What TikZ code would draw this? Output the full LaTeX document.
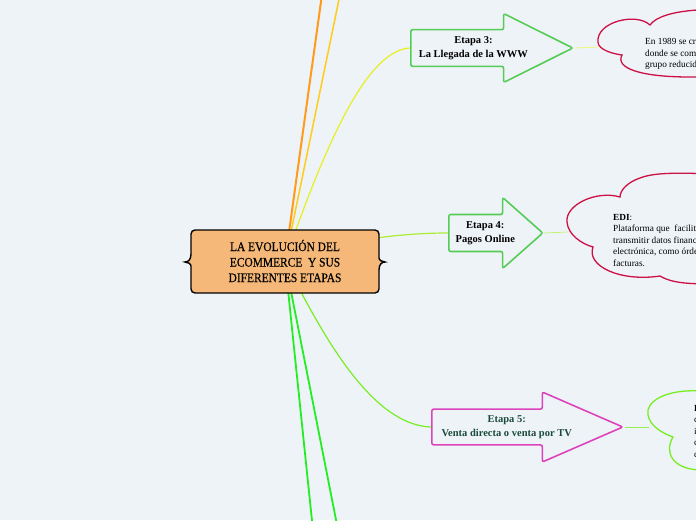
\documentclass[tikz,border=0pt]{standalone}
\usepackage{fontspec}
\setmainfont{Liberation Serif}
\newfontfamily\topicfont[FakeStretch=0.88,FakeBold=0.4]{Liberation Serif}
\usetikzlibrary{shapes.arrows,calc}
\definecolor{mybg}{HTML}{EEF3F8}
\definecolor{myorange}{HTML}{FF9A1A}
\definecolor{mygold}{HTML}{FFCC1A}
\definecolor{myyellow}{HTML}{E6F020}
\definecolor{mylime}{HTML}{AAEE33}
\definecolor{mylgreen}{HTML}{77EE22}
\definecolor{mygreen}{HTML}{22EE22}
\definecolor{mystage}{HTML}{55CC55}
\definecolor{mymagenta}{HTML}{DD44BB}
\definecolor{mycrimson}{HTML}{CC1144}
\definecolor{mypeach}{HTML}{F5B878}
\definecolor{mydkgreen}{HTML}{1A4A3A}

\begin{document}
\begin{tikzpicture}[x=1pt, y=-1pt,
  every node/.style={font=\fontsize{10.5}{13.5}\selectfont\bfseries, align=center},
  stage/.style={shape=single arrow, draw=mystage, fill=mybg, line width=1.6pt,
    rounded corners=2pt, inner sep=2pt, anchor=tail},
  bubble/.style={draw=mycrimson, fill=mybg, line width=1.3pt},
  note/.style={font=\fontsize{9.3}{11.5}\selectfont, align=left, anchor=north west, inner sep=0pt}]
  % --- canvas ---
  \fill[mybg] (0,0) rectangle (696,520);
  \clip (0,0) rectangle (696,520);
  % --- hub and loose ends ---
  \coordinate (hub) at (285,261);
  \coordinate (o1) at (324,-20);
  \coordinate (o2) at (343,-20);
  \coordinate (g1) at (314,540);
  \coordinate (g2) at (340,540);
  % --- stage 3 ---
  \node[stage, minimum height=162pt, minimum width=69pt,
    single arrow head extend=12.5pt, single arrow tip angle=53] (e3) at (410,48)
    {Etapa 3:\\La Llegada de la WWW};
  \draw[bubble] (650,25) .. controls (636,12) and (596,22) .. (598,42)
    .. controls (598,50) and (614,54) .. (622,55)
    .. controls (615,68) and (640,77) .. (690,77) -- (770,77) -- (770,14)
    .. controls (720,6) and (662,8) .. cycle;
  \coordinate (k3) at (599,47);
  \node[note] (t3) at (645,38)
    {En 1989 se creó la World Wide Web,\\donde se comenzó a vender a un\\grupo reducido de usuarios.};
  % --- stage 4 ---
  \node[stage, minimum height=94pt, minimum width=71pt,
    single arrow head extend=13pt, single arrow tip angle=83] (e4) at (448,233)
    {Etapa 4:\\Pagos Online};
  \draw[bubble] (620,197) .. controls (596,190) and (565,205) .. (567,222)
    .. controls (568,235) and (582,244) .. (593,247)
    .. controls (586,266) and (620,282) .. (660,276)
    .. controls (675,285) and (700,286) .. (770,280) -- (770,176)
    .. controls (700,174) and (660,170) .. (640,178)
    .. controls (628,182) and (620,190) .. cycle;
  \coordinate (k4) at (568,232);
  \node[note] (t4) at (613,214)
    {\textbf{EDI}:\\Plataforma que~ facilitaba\\transmitir datos financieros de forma\\electrónica, como órdenes de compra y\\facturas.};
  % --- stage 5 ---
  \node[stage, draw=mymagenta, text=mydkgreen, minimum height=191pt, minimum width=70pt,
    single arrow head extend=13.5pt, single arrow tip angle=47] (e5) at (431,427)
    {Etapa 5:\\Venta directa o venta por TV};
  \draw[bubble, draw=mylgreen] (700,391) .. controls (665,389) and (645,402) .. (648,415)
    .. controls (650,426) and (662,433) .. (673,437)
    .. controls (664,452) and (672,469) .. (700,470) -- (770,470) -- (770,391) -- cycle;
  \coordinate (k5) at (649,427);
  \node[note] (t5) at (694,405)
    {\textbf{En}\\comerciales\\infomerciales\\canales\\compras};
  % --- connectors ---
  \draw[myorange, line width=2pt] (hub) -- (o1);
  \draw[mygold, line width=1.5pt] (hub) -- (o2);
  \draw[mygreen, line width=1.8pt] (hub) -- (g1);
  \draw[mygreen, line width=1.8pt] (hub) -- (g2);
  \draw[myyellow, line width=1.2pt] (hub) .. controls (330,130) and (370,50) .. (e3.tail);
  \draw[mylime, line width=1.2pt] (hub) .. controls (340,240) and (400,233) .. (e4.tail);
  \draw[mylgreen, line width=1.2pt] (hub) .. controls (320,330) and (370,425) .. (e5.tail);
  \draw[myyellow!60, line width=0.8pt] (e3.tip) -- (k3);
  \draw[mylime!70, line width=0.8pt] (e4.tip) -- (k4);
  \draw[mylgreen!80, line width=0.8pt] (e5.tip) -- (k5);
  % --- central topic ---
  \draw[fill=mypeach, line width=1.4pt, rounded corners=4pt]
    (191,230) -- (379,230) -- (379,254)
    [sharp corners] .. controls (379,260) and (382,262) .. (385,262)
    .. controls (382,262) and (379,264) .. (379,270)
    [rounded corners=4pt] -- (379,293) -- (191,293) -- (191,270)
    [sharp corners] .. controls (191,264) and (188,262) .. (185,262)
    .. controls (188,262) and (191,260) .. (191,254)
    [rounded corners=4pt] -- cycle;
  \node[font=\topicfont\fontsize{13}{15.5}\selectfont] (c) at (285,261)
    {LA EVOLUCIÓN DEL\\ECOMMERCE~ Y SUS\\DIFERENTES ETAPAS};
\end{tikzpicture}
\end{document}
